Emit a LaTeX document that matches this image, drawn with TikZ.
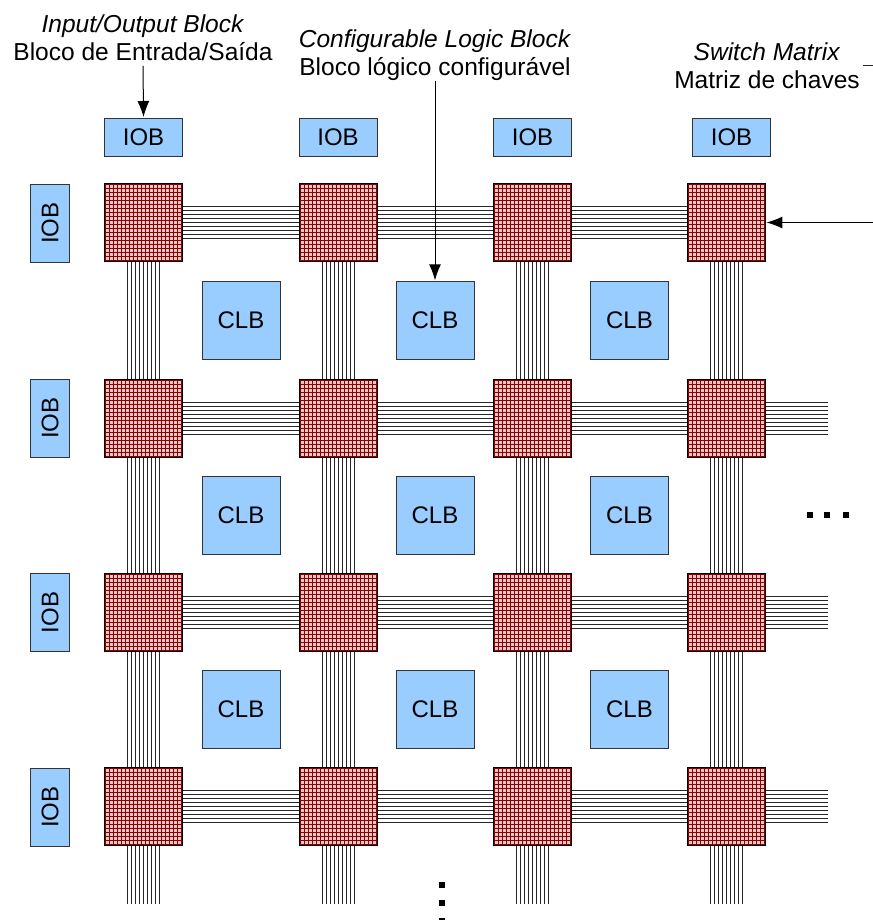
\documentclass[tikz,border=0pt]{standalone}
\usepackage{fontspec}
\setmainfont{Liberation Sans}
\usetikzlibrary{calc, arrows.meta}

\definecolor{blockblue}{HTML}{99CCFF}
\definecolor{edgegrey}{HTML}{333333}
\definecolor{gridred}{HTML}{8B0000}

\tikzset{
    iobbox/.style={draw=edgegrey, fill=blockblue, line width=0.75pt, minimum width=58.5pt, minimum height=29pt, inner sep=0pt, font=\fontsize{18}{21}\selectfont},
    clbbox/.style={draw=edgegrey, fill=blockblue, line width=0.75pt, minimum size=58.5pt, inner sep=0pt, font=\fontsize{18}{21}\selectfont},
    switchbox/.style={fill=gridred!22, minimum size=58.5pt, inner sep=0pt},
    gridline/.style={draw=gridred, line width=0.85pt},
    labeltext/.style={align=center, inner sep=0pt, font=\fontsize{18.4}{21}\selectfont},
    busline/.style={line width=0.75pt, black!85},
    pointer/.style={line width=0.75pt, -{Latex[length=12pt, width=9pt]}, shorten >=0.5pt},
    dotmark/.style={fill=black, inner sep=0pt, minimum size=5pt}
}

\begin{document}
\begin{tikzpicture}[x=0.75pt, y=-0.75pt]
    \useasboundingbox (0,0) rectangle (873,920);

    % switch matrices
    \foreach \x/\c in {143.5/1, 338.5/2, 532.5/3, 726.5/4}
        \foreach \y/\r in {222.5/1, 418.5/2, 612.5/3, 806.5/4} {
            \node[switchbox] (sm\r\c) at (\x,\y) {};
            \path[gridline] foreach \k in {-9.5,-8.5,...,9.5} {
                ($(sm\r\c.north)+(\k*4,0)$) -- ($(sm\r\c.south)+(\k*4,0)$)
                ($(sm\r\c.west)+(0,\k*4)$) -- ($(sm\r\c.east)+(0,\k*4)$)
            };
            \draw[black, line width=0.75pt] (sm\r\c.north west) rectangle (sm\r\c.south east);
        }

    % io blocks
    \node[iobbox] (iobt1) at (143.5,137.5) {IOB};
    \node[iobbox] (iobt2) at (338,137.5) {IOB};
    \node[iobbox] (iobt3) at (532.5,137.5) {IOB};
    \node[iobbox] (iobt4) at (731.5,137.5) {IOB};
    \foreach \y/\r in {223/1, 418/2, 612.5/3, 807/4}
        \node[iobbox, rotate=90] (iobl\r) at (50,\y) {IOB};

    % logic blocks
    \foreach \x/\c in {241/1, 435/2, 629.5/3}
        \foreach \y/\r in {320.5/1, 515/2, 709.5/3}
            \node[clbbox] (clb\r\c) at (\x,\y) {CLB};

    % buses between the matrices
    \foreach \d in {-16,-12,...,16} {
        \foreach \r in {1,...,4} {
            \draw[busline] ($(sm\r1.east)+(0,\d)$) -- ($(sm\r2.west)+(0,\d)$);
            \draw[busline] ($(sm\r2.east)+(0,\d)$) -- ($(sm\r3.west)+(0,\d)$);
            \draw[busline] ($(sm\r3.east)+(0,\d)$) -- ($(sm\r4.west)+(0,\d)$);
        }
        \foreach \c in {1,...,4} {
            \draw[busline] ($(sm1\c.south)+(\d,0)$) -- ($(sm2\c.north)+(\d,0)$);
            \draw[busline] ($(sm2\c.south)+(\d,0)$) -- ($(sm3\c.north)+(\d,0)$);
            \draw[busline] ($(sm3\c.south)+(\d,0)$) -- ($(sm4\c.north)+(\d,0)$);
            \coordinate (endb\c) at (sm4\c |- 0,904);
            \draw[busline] ($(sm4\c.south)+(\d,0)$) -- ($(endb\c)+(\d,0)$);
        }
        \foreach \r in {2,3,4} {
            \coordinate (endr\r) at (sm\r4 -| 828,0);
            \draw[busline] ($(sm\r4.east)+(0,\d)$) -- ($(endr\r)+(0,\d)$);
        }
    }

    % labels
    \node[labeltext] (lblio) at (143,38) {\textit{Input/Output Block}\\Bloco de Entrada/Saída};
    \node[labeltext] (lblclb) at (435,55) {\textit{Configurable Logic Block}\\Bloco lógico configurável};
    \node[labeltext] (lblsm) at (767,66) {\textit{Switch Matrix}\\Matriz de chaves};

    % pointers
    \coordinate (smin) at (873,222.5);
    \coordinate (dashl) at (863,66);
    \coordinate (dashr) at (873,66);
    \draw[pointer, shorten <=3.5pt] (lblio.south) -- (iobt1.north);
    \draw[pointer] (lblclb.south -| clb12) -- (clb12.north);
    \draw[pointer] (smin) -- (sm14.east);
    \draw[busline] (dashl) -- (dashr);

    % dots
    \node[dotmark] (dotr1) at (810,515) {};
    \node[dotmark] (dotr2) at (827,515) {};
    \node[dotmark] (dotr3) at (846,515) {};
    \node[dotmark] (dotb1) at (442,885) {};
    \node[dotmark] (dotb2) at (442,903) {};
    \node[dotmark] (dotb3) at (442,921) {};
\end{tikzpicture}
\end{document}
